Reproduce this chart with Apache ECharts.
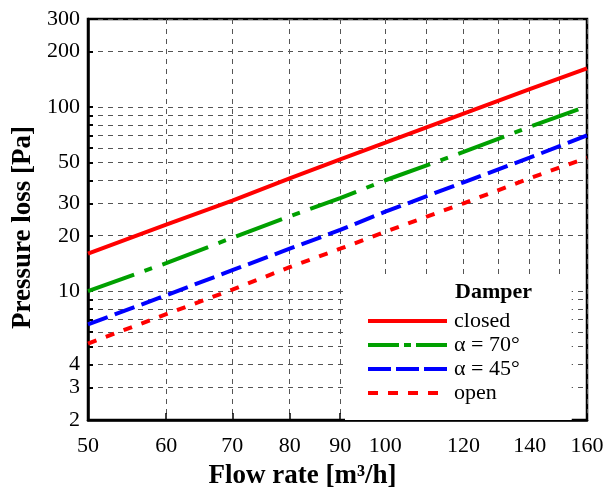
<!DOCTYPE html>
<html>
<head>
<meta charset="utf-8">
<script src="https://cdn.jsdelivr.net/npm/echarts@6/dist/echarts.min.js"></script>
<style>html,body{margin:0;padding:0;background:#fff}#c{width:608px;height:493px}</style>
</head>
<body>
<div id="c"></div>
<script>
// ---- data ----
var flowRate = [50, 60, 70, 80, 90, 100, 120, 140, 160];
var closedLoss = [16, 23, 31, 41, 52, 64, 92, 125, 162];
var alpha70Loss = [10, 14.2, 19.5, 25.5, 32, 40, 57, 78, 101];
var alpha45Loss = [6.6, 9.5, 13, 17, 21.5, 27, 39, 53, 70];
var openLoss = [5.2, 7.5, 10.2, 13.5, 17, 21, 30, 41, 53];
var seriesNames = ['closed', 'α = 70°', 'α = 45°', 'open'];
var xTickLabels = [50, 60, 70, 80, 90, 100, 120, 140, 160];
var xGridValues = [50, 60, 70, 80, 90, 100, 110, 120, 130, 140, 150, 160];
var yTickLabels = [2, 3, 4, 10, 20, 30, 50, 100, 200, 300];
var yGridValues = [2, 3, 4, 5, 6, 7, 8, 9, 10, 20, 30, 40, 50, 60, 70, 80, 90, 100, 200, 300];

function pairs(ys) { return flowRate.map(function (x, i) { return [x, ys[i]]; }); }

var font = '"Liberation Serif", "DejaVu Serif", serif';
var chart = echarts.init(document.getElementById('c'), null, { renderer: 'canvas' });
var gridStyle = { show: true, lineStyle: { color: '#555', width: 1, type: [5, 5] } };
var colors = ['#ff0000', '#00a000', '#0000ff', '#ff0000'];
var plotDash = ['solid', [49, 11, 8, 11], [21, 7.5], [9, 10]];
var legendDash = ['solid', [31, 5, 7, 5], [23, 5], [10, 10]];

chart.setOption({
  backgroundColor: '#fff',
  animation: false,
  grid: { left: 88, right: 21, top: 19, bottom: 73, containLabel: false, outerBoundsMode: 'none',
          show: true, borderColor: '#000', borderWidth: 2.5, backgroundColor: 'transparent' },
  xAxis: {
    type: 'log', min: 50, max: 160, logBase: 10,
    name: 'Flow rate [m³/h]', nameLocation: 'middle', nameGap: 43,
    nameTextStyle: { fontFamily: font, fontWeight: 'bold', fontSize: 27, color: '#000', padding: [0, 70, 0, 0] },
    axisLine: { show: true, lineStyle: { color: '#000', width: 2.5 } },
    axisTick: { show: true, inside: true, length: 7, lineStyle: { color: '#000', width: 1.5 }, customValues: xGridValues },
    axisLabel: { fontFamily: font, fontSize: 22, color: '#000', margin: 15, customValues: xTickLabels },
    splitLine: gridStyle,
    minorTick: { show: false }, minorSplitLine: { show: false }
  },
  yAxis: {
    type: 'log', min: 2, max: 300, logBase: 10,
    name: 'Pressure loss [Pa]', nameLocation: 'middle', nameGap: 43,
    nameTextStyle: { fontFamily: font, fontWeight: 'bold', fontSize: 27, color: '#000', padding: [0, 16, 0, 0] },
    axisLine: { show: true, lineStyle: { color: '#000', width: 2.5 } },
    axisTick: { show: true, inside: true, length: 5, lineStyle: { color: '#000', width: 2 }, customValues: yGridValues },
    axisLabel: { fontFamily: font, fontSize: 22, color: '#000', margin: 8, customValues: yTickLabels },
    splitLine: gridStyle,
    minorTick: { show: false }, minorSplitLine: { show: false }
  },
  legend: {
    orient: 'vertical', left: 345, top: 278,
    padding: [32, 52, 16, 21],
    backgroundColor: '#fff',
    itemWidth: 79, itemHeight: 14, itemGap: 2,
    itemStyle: { color: 'transparent', borderWidth: 0, opacity: 0 },
    lineStyle: { width: 4 },
    textStyle: { fontFamily: font, fontSize: 22, color: '#000', padding: [0, 0, 0, 2] },
    data: seriesNames.map(function (n, i) {
      return { name: n, lineStyle: { width: 4, color: colors[i], type: legendDash[i] } };
    }),
    selectedMode: false
  },
  graphic: [{
    type: 'text', left: 455, top: 281, z: 100,
    style: { text: 'Damper', font: 'bold 22px ' + font, fill: '#000' }
  }],
  series: seriesNames.map(function (n, i) {
    var vals = [closedLoss, alpha70Loss, alpha45Loss, openLoss][i];
    return {
      name: n, type: 'line', data: pairs(vals), showSymbol: false, symbol: 'none',
      lineStyle: { color: colors[i], width: 4, type: plotDash[i] }, itemStyle: { color: colors[i] }
    };
  })
});
</script>
</body>
</html>
